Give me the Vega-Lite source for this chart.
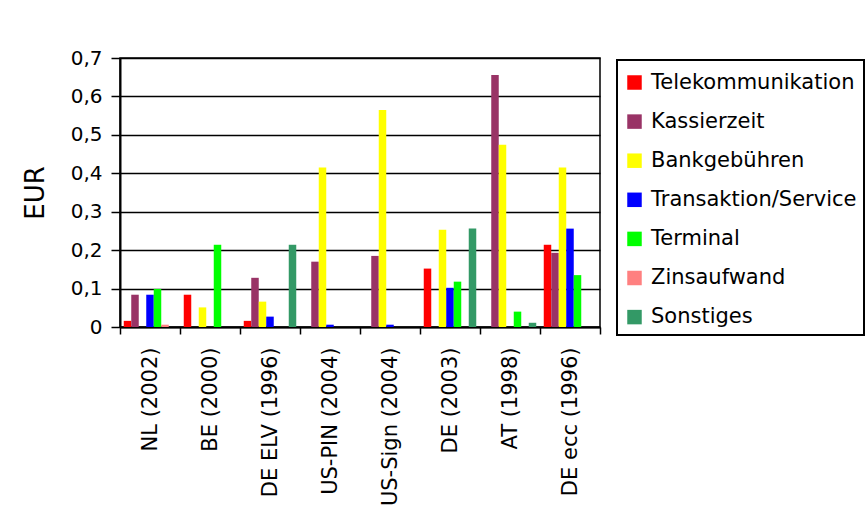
{
  "$schema": "https://vega.github.io/schema/vega-lite/v6.json",
  "width": 480,
  "height": 269,
  "autosize": "none",
  "padding": {"left": 120, "top": 58, "right": 266, "bottom": 203},
  "background": "white",
  "config": {"view": {"stroke": "#000", "strokeWidth": 1.5}, "font": "DejaVu Sans", "legend": {"strokeWidth": 2}},
  "data": {
    "values": [
      {"land": "NL (2002)", "kategorie": "Telekommunikation", "eur": 0.016},
      {"land": "NL (2002)", "kategorie": "Kassierzeit", "eur": 0.084},
      {"land": "NL (2002)", "kategorie": "Transaktion/Service", "eur": 0.084},
      {"land": "NL (2002)", "kategorie": "Terminal", "eur": 0.099},
      {"land": "NL (2002)", "kategorie": "Zinsaufwand", "eur": 0.006},
      {"land": "BE (2000)", "kategorie": "Telekommunikation", "eur": 0.084},
      {"land": "BE (2000)", "kategorie": "Bankgebühren", "eur": 0.051},
      {"land": "BE (2000)", "kategorie": "Terminal", "eur": 0.214},
      {"land": "DE ELV (1996)", "kategorie": "Telekommunikation", "eur": 0.016},
      {"land": "DE ELV (1996)", "kategorie": "Kassierzeit", "eur": 0.128},
      {"land": "DE ELV (1996)", "kategorie": "Bankgebühren", "eur": 0.066},
      {"land": "DE ELV (1996)", "kategorie": "Transaktion/Service", "eur": 0.027},
      {"land": "DE ELV (1996)", "kategorie": "Sonstiges", "eur": 0.214},
      {"land": "US-PIN (2004)", "kategorie": "Kassierzeit", "eur": 0.170},
      {"land": "US-PIN (2004)", "kategorie": "Bankgebühren", "eur": 0.415},
      {"land": "US-PIN (2004)", "kategorie": "Transaktion/Service", "eur": 0.006},
      {"land": "US-Sign (2004)", "kategorie": "Kassierzeit", "eur": 0.185},
      {"land": "US-Sign (2004)", "kategorie": "Bankgebühren", "eur": 0.565},
      {"land": "US-Sign (2004)", "kategorie": "Transaktion/Service", "eur": 0.006},
      {"land": "DE (2003)", "kategorie": "Telekommunikation", "eur": 0.152},
      {"land": "DE (2003)", "kategorie": "Bankgebühren", "eur": 0.253},
      {"land": "DE (2003)", "kategorie": "Transaktion/Service", "eur": 0.102},
      {"land": "DE (2003)", "kategorie": "Terminal", "eur": 0.118},
      {"land": "DE (2003)", "kategorie": "Sonstiges", "eur": 0.256},
      {"land": "AT (1998)", "kategorie": "Kassierzeit", "eur": 0.656},
      {"land": "AT (1998)", "kategorie": "Bankgebühren", "eur": 0.474},
      {"land": "AT (1998)", "kategorie": "Terminal", "eur": 0.040},
      {"land": "AT (1998)", "kategorie": "Sonstiges", "eur": 0.011},
      {"land": "DE ecc (1996)", "kategorie": "Telekommunikation", "eur": 0.214},
      {"land": "DE ecc (1996)", "kategorie": "Kassierzeit", "eur": 0.193},
      {"land": "DE ecc (1996)", "kategorie": "Bankgebühren", "eur": 0.415},
      {"land": "DE ecc (1996)", "kategorie": "Transaktion/Service", "eur": 0.256},
      {"land": "DE ecc (1996)", "kategorie": "Terminal", "eur": 0.135}
    ]
  },
  "mark": {"type": "bar"},
  "encoding": {
    "x": {
      "field": "land",
      "type": "nominal",
      "sort": ["NL (2002)", "BE (2000)", "DE ELV (1996)", "US-PIN (2004)", "US-Sign (2004)", "DE (2003)", "AT (1998)", "DE ecc (1996)"],
      "scale": {"paddingInner": 0, "paddingOuter": 0},
      "axis": {
        "title": null,
        "grid": false,
        "labelAngle": -90,
        "labelAlign": "right",
        "labelBaseline": "middle",
        "labelFont": "DejaVu Sans",
        "labelFontSize": 21,
        "labelColor": "#000",
        "labelPadding": 13,
        "labelLimit": 300,
        "tickBand": "extent",
        "tickSize": 7,
        "tickColor": "#000",
        "tickWidth": 1.5,
        "domainColor": "#000",
        "domainWidth": 2
      }
    },
    "xOffset": {
      "field": "kategorie",
      "type": "nominal",
      "scale": {
        "domain": ["Telekommunikation", "Kassierzeit", "Bankgebühren", "Transaktion/Service", "Terminal", "Zinsaufwand", "Sonstiges"],
        "paddingInner": 0,
        "paddingOuter": 0.5
      }
    },
    "y": {
      "field": "eur",
      "type": "quantitative",
      "scale": {"domain": [0, 0.7], "nice": false},
      "axis": {
        "values": [0, 0.1, 0.2, 0.3, 0.4, 0.5, 0.6, 0.7],
        "title": "EUR",
        "titleFont": "DejaVu Sans",
        "titleFontSize": 26,
        "titleFontWeight": "normal",
        "titleColor": "#000",
        "titlePadding": 22,
        "labelExpr": "datum.value == 0 ? '0' : replace(format(datum.value, '.1f'), '.', ',')",
        "labelFont": "DejaVu Sans",
        "labelFontSize": 20,
        "labelColor": "#000",
        "labelPadding": 9,
        "tickSize": 9,
        "tickColor": "#000",
        "tickWidth": 1.5,
        "grid": true,
        "gridColor": "#000",
        "gridWidth": 1.5,
        "gridOpacity": 1,
        "domainColor": "#000",
        "domainWidth": 2
      }
    },
    "color": {
      "field": "kategorie",
      "type": "nominal",
      "scale": {
        "domain": ["Telekommunikation", "Kassierzeit", "Bankgebühren", "Transaktion/Service", "Terminal", "Zinsaufwand", "Sonstiges"],
        "range": ["#FF0000", "#993366", "#FFFF00", "#0000FF", "#00FF00", "#FF8080", "#339966"]
      },
      "legend": {
        "title": " ",
        "titleFontSize": 1,
        "titlePadding": 4,
        "orient": "none",
        "legendX": 497,
        "legendY": 2,
        "symbolType": "square",
        "symbolSize": 210,
        "symbolStrokeWidth": 0,
        "labelFont": "DejaVu Sans",
        "labelFontSize": 21,
        "labelColor": "#000",
        "labelLimit": 300,
        "labelOffset": 6,
        "rowPadding": 17.1,
        "padding": 7,
        "strokeColor": "#000",
        "fillColor": "#fff"
      }
    }
  }
}
